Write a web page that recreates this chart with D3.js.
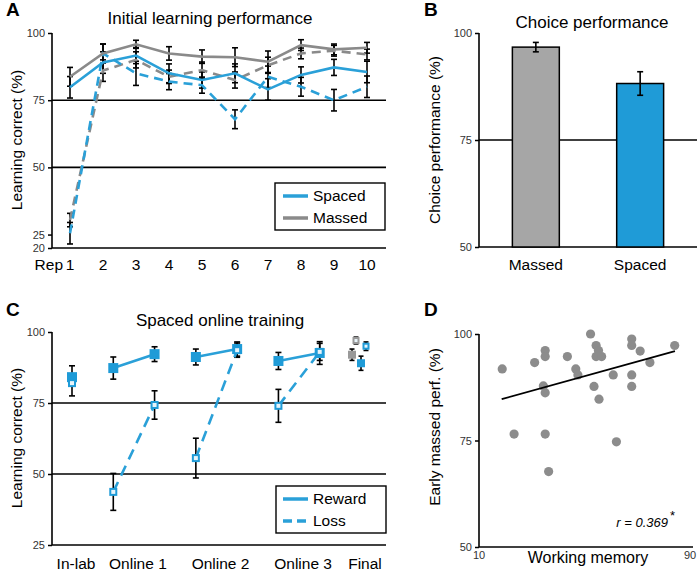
<!DOCTYPE html>
<html>
<head>
<meta charset="utf-8">
<script src="https://cdn.jsdelivr.net/npm/d3@7"></script>
<style>
  body { margin: 0; background: #fff; }
  svg { font-family: "Liberation Sans", Arial, sans-serif; }
</style>
</head>
<body>
<svg width="700" height="574"></svg>
<script>
// ---- data ----
// panel A: initial learning performance, reps 1..10
var reps = [1, 2, 3, 4, 5, 6, 7, 8, 9, 10]
var spacedReward = [79.8, 89, 91.6, 85, 82.5, 85, 79, 84.4, 87.2, 85.5]
var spacedRewardErr = [4, 4, 3, 3.5, 3, 3.5, 4, 3, 3, 4]
var massedReward = [83.7, 92.4, 95.8, 92.4, 91.2, 91, 89.3, 95.5, 93.9, 94.5]
var massedRewardErr = [3.5, 3.5, 1.5, 2.5, 2.5, 3.5, 4, 2, 2, 2]
var spacedLoss = [25.5, 92.4, 85, 81.9, 80.6, 67.9, 83.7, 80, 75, 80]
var spacedLossErr = [4, 3.5, 4.5, 3, 3, 3.5, 4, 3.5, 4, 4]
var massedLoss = [30.4, 86, 90, 83.7, 86.2, 82.5, 88, 92.4, 93.4, 92]
var massedLossErr = [2.5, 4, 3, 2.5, 3, 3, 3, 2, 2, 2]

// panel B: choice performance
var choiceGroups = ['Massed', 'Spaced']
var choiceValues = [96.7, 88.2]
var choiceErr = [1.1, 2.75]

// panel C: spaced online training (session slots 0..6)
var sessionLabels = ['In-lab', 'Online 1', 'Online 2', 'Online 3', 'Final']
var sessionLabelPos = [0, 1.5, 3.5, 5.5, 7]
var rewardPairs = [[1, 2], [3, 4], [5, 6]]
var onlineReward = [87.3, 92.2, 91.2, 94, 89.8, 92.6]
var onlineRewardErr = [3.9, 2.6, 2.8, 2.5, 3, 4]
var onlineLoss = [43.7, 74.3, 55.6, 93.6, 74, 93]
var onlineLossErr = [6.5, 5, 7, 2.5, 5.8, 3]
var inlabReward = 84.1, inlabRewardErr = 4
var inlabLoss = 82, inlabLossErr = 4.5
// final: massed reward, massed loss, spaced reward, spaced loss
var finalValues = [92, 97, 89, 95]
var finalErr = [2, 1.2, 2.5, 1.5]

// panel D: working memory vs early massed performance
var wmX = [18.8, 23.3, 31.1, 35.1, 35.1, 34.4, 35.1, 35.1, 36.4, 43.5, 46.7, 47.5, 52.3, 54.4,
  55.3, 54.4, 56.5, 53.6, 55.5, 60.9, 62.1, 67.9, 67.9, 71.1, 67.9, 67.9, 74.8, 84.2]
var perfY = [91.8, 76.5, 93.3, 96.1, 94.7, 87.8, 86.2, 76.5, 67.7, 94.7, 91.8, 90.4, 100, 97.3,
  96.1, 94.7, 94.7, 87.7, 84.7, 90.4, 74.7, 98.8, 97.3, 96.0, 90.4, 87.7, 93.3, 97.3]
var fitX = [18.6, 84.3]
var fitY = [84.7, 96.0]

// ---- styles ----
var blue = '#2aa0d8'
var barBlue = '#1f9bd7'
var gray = '#8a8a8a'
var tickColor = '#333'

var svg = d3.select('svg')
svg.append('rect').attr('width', 700).attr('height', 574).attr('fill', '#fff')

function panelLetter(t, x, y) {
  svg.append('text').attr('x', x).attr('y', y).text(t)
    .attr('font-size', 19).attr('font-weight', 'bold')
}
function title(t, x, y) {
  svg.append('text').attr('x', x).attr('y', y).text(t)
    .attr('font-size', 17).attr('text-anchor', 'middle')
}
function yTitle(t, x, y) {
  svg.append('text').attr('transform', 'translate(' + x + ',' + y + ') rotate(-90)')
    .text(t).attr('font-size', 15.5).attr('text-anchor', 'middle')
}
function yTicks(g, scale, vals, x0) {
  var ax = d3.axisLeft(scale).tickValues(vals).tickSize(4).tickPadding(3)
  var a = g.append('g').attr('transform', 'translate(' + x0 + ',0)').call(ax)
  a.select('.domain').remove()
  a.selectAll('text').attr('font-size', 11).attr('fill', tickColor)
    .attr('font-family', '"Liberation Sans", Arial, sans-serif')
  a.selectAll('line').attr('stroke', '#000').attr('stroke-width', 1.5)
}
function hline(g, x1, x2, y) {
  g.append('line').attr('x1', x1).attr('x2', x2).attr('y1', y).attr('y2', y)
    .attr('stroke', '#000').attr('stroke-width', 1.6)
}
function vline(g, x, y1, y2) {
  g.append('line').attr('x1', x).attr('x2', x).attr('y1', y1).attr('y2', y2)
    .attr('stroke', '#000').attr('stroke-width', 1.6)
}
function errBar(g, x, yTop, yBot, cap) {
  cap = cap || 3
  g.append('line').attr('x1', x).attr('x2', x).attr('y1', yTop).attr('y2', yBot)
    .attr('stroke', '#000').attr('stroke-width', 1.6)
  g.append('line').attr('x1', x - cap).attr('x2', x + cap).attr('y1', yTop).attr('y2', yTop)
    .attr('stroke', '#000').attr('stroke-width', 1.6)
  g.append('line').attr('x1', x - cap).attr('x2', x + cap).attr('y1', yBot).attr('y2', yBot)
    .attr('stroke', '#000').attr('stroke-width', 1.6)
}

// ================= Panel A =================
var gA = svg.append('g')
var xA = d3.scaleLinear().domain([1, 10]).range([70, 367])
var yA = d3.scaleLinear().domain([20, 100]).range([248, 33])
panelLetter('A', 6, 16)
title('Initial learning performance', 210, 24)
yTitle('Learning correct (%)', 22, 140)
yTicks(gA, yA, [100, 75, 50, 25, 20], 52)
hline(gA, 52, 386, yA(75))
hline(gA, 52, 386, yA(50))
hline(gA, 52, 386, yA(20))
vline(gA, 52, 33, 248)

var seriesA = [
  { v: massedLoss, e: massedLossErr, c: gray, dash: '9,6' },
  { v: spacedLoss, e: spacedLossErr, c: blue, dash: '9,6' },
  { v: massedReward, e: massedRewardErr, c: gray, dash: null },
  { v: spacedReward, e: spacedRewardErr, c: blue, dash: null }
]
seriesA.forEach(function (s) {
  reps.forEach(function (r, i) {
    errBar(gA, xA(r), yA(s.v[i] + s.e[i]), yA(s.v[i] - s.e[i]), 3)
  })
})
var lineA = d3.line().x(function (d) { return xA(d[0]) }).y(function (d) { return yA(d[1]) })
seriesA.forEach(function (s) {
  gA.append('path').datum(reps.map(function (r, i) { return [r, s.v[i]] }))
    .attr('d', lineA).attr('fill', 'none').attr('stroke', s.c)
    .attr('stroke-width', 2.6).attr('stroke-dasharray', s.dash)
})
// x labels
reps.forEach(function (r) {
  gA.append('text').attr('x', xA(r)).attr('y', 270).text(r)
    .attr('font-size', 15.5).attr('text-anchor', 'middle')
})
gA.append('text').attr('x', xA(1) - 7).attr('y', 270).text('Rep')
  .attr('font-size', 15.5).attr('text-anchor', 'end')

// legend A
gA.append('rect').attr('x', 275).attr('y', 183).attr('width', 110).attr('height', 47)
  .attr('fill', '#fff').attr('stroke', '#000').attr('stroke-width', 1.4)
;[['Spaced', blue], ['Massed', gray]].forEach(function (d, i) {
  var yy = 196 + i * 22
  gA.append('line').attr('x1', 283).attr('x2', 308).attr('y1', yy).attr('y2', yy)
    .attr('stroke', d[1]).attr('stroke-width', 3.5)
  gA.append('text').attr('x', 313).attr('y', yy + 5).text(d[0]).attr('font-size', 15.5)
})

// ================= Panel B =================
var gB = svg.append('g')
var xB = d3.scaleBand().domain(choiceGroups).range([479, 697]).paddingInner(0.55).paddingOuter(0.32)
var yB = d3.scaleLinear().domain([50, 100]).range([247, 33])
panelLetter('B', 424, 16)
title('Choice performance', 592, 28)
yTitle('Choice performance (%)', 440, 140)
yTicks(gB, yB, [100, 75, 50], 479)
hline(gB, 479, 697, yB(75))
hline(gB, 479, 697, yB(50))
vline(gB, 479, 33, 247)
gB.selectAll('rect.bar').data(choiceGroups).enter().append('rect')
  .attr('class', 'bar')
  .attr('x', function (d) { return xB(d) })
  .attr('width', xB.bandwidth())
  .attr('y', function (d, i) { return yB(choiceValues[i]) })
  .attr('height', function (d, i) { return yB(50) - yB(choiceValues[i]) })
  .attr('fill', function (d, i) { return i === 0 ? '#a6a6a6' : barBlue })
  .attr('stroke', '#000').attr('stroke-width', 1.5)
choiceGroups.forEach(function (d, i) {
  var cx = xB(d) + xB.bandwidth() / 2
  errBar(gB, cx, yB(choiceValues[i] + choiceErr[i]), yB(choiceValues[i] - choiceErr[i]), 3)
  gB.append('text').attr('x', cx).attr('y', 270).text(d)
    .attr('font-size', 15.5).attr('text-anchor', 'middle')
})

// ================= Panel C =================
var gC = svg.append('g')
var xC = d3.scaleLinear().domain([0, 7]).range([72, 361])
var yC = d3.scaleLinear().domain([25, 100]).range([545, 332])
panelLetter('C', 6, 316)
title('Spaced online training', 220, 326)
yTitle('Learning correct (%)', 22, 438)
yTicks(gC, yC, [100, 75, 50, 25], 52)
hline(gC, 52, 386, yC(75))
hline(gC, 52, 386, yC(50))
hline(gC, 52, 386, yC(25))
vline(gC, 52, 332, 545)

function filledSq(g, x, y, s, c) {
  g.append('rect').attr('x', x - s / 2).attr('y', y - s / 2).attr('width', s).attr('height', s)
    .attr('fill', c)
}
function openSq(g, x, y, s, c) {
  g.append('rect').attr('x', x - s / 2 + 1).attr('y', y - s / 2 + 1).attr('width', s - 2).attr('height', s - 2)
    .attr('fill', '#e8f4fa').attr('stroke', c).attr('stroke-width', 2)
}

// error bars
errBar(gC, xC(0), yC(inlabReward + inlabRewardErr), yC(inlabLoss - inlabLossErr), 3)
onlineReward.forEach(function (v, i) {
  errBar(gC, xC(i + 1), yC(v + onlineRewardErr[i]), yC(v - onlineRewardErr[i]), 3)
})
onlineLoss.forEach(function (v, i) {
  errBar(gC, xC(i + 1), yC(v + onlineLossErr[i]), yC(v - onlineLossErr[i]), 3)
})
// lines
rewardPairs.forEach(function (p) {
  gC.append('line').attr('x1', xC(p[0])).attr('x2', xC(p[1]))
    .attr('y1', yC(onlineReward[p[0] - 1])).attr('y2', yC(onlineReward[p[1] - 1]))
    .attr('stroke', blue).attr('stroke-width', 2.6)
  gC.append('line').attr('x1', xC(p[0])).attr('x2', xC(p[1]))
    .attr('y1', yC(onlineLoss[p[0] - 1])).attr('y2', yC(onlineLoss[p[1] - 1]))
    .attr('stroke', blue).attr('stroke-width', 2.6).attr('stroke-dasharray', '11,7')
})
// markers
filledSq(gC, xC(0), yC(inlabReward), 10, barBlue)
openSq(gC, xC(0), yC(inlabLoss), 8, barBlue)
onlineReward.forEach(function (v, i) { filledSq(gC, xC(i + 1), yC(v), 10, barBlue) })
onlineLoss.forEach(function (v, i) { openSq(gC, xC(i + 1), yC(v), 8, barBlue) })
// final
var finalOffsets = [-9, -5, 0, 5]
finalValues.forEach(function (v, i) {
  var x = xC(7) + finalOffsets[i]
  errBar(gC, x, yC(v + finalErr[i]), yC(v - finalErr[i]), 2.5)
})
finalValues.forEach(function (v, i) {
  var x = xC(7) + finalOffsets[i]
  var c = i < 2 ? '#999' : barBlue
  if (i % 2 === 0) filledSq(gC, x, yC(v), 8, c)
  else openSq(gC, x, yC(v), 7, c)
})
sessionLabels.forEach(function (t, i) {
  gC.append('text').attr('x', xC(sessionLabelPos[i]) + 4).attr('y', 569).text(t)
    .attr('font-size', 15.5).attr('text-anchor', 'middle')
})
// legend C
gC.append('rect').attr('x', 276).attr('y', 486).attr('width', 110).attr('height', 47)
  .attr('fill', '#fff').attr('stroke', '#000').attr('stroke-width', 1.4)
;[['Reward', null], ['Loss', '9,5']].forEach(function (d, i) {
  var yy = 499 + i * 22
  gC.append('line').attr('x1', 283).attr('x2', 308).attr('y1', yy).attr('y2', yy)
    .attr('stroke', blue).attr('stroke-width', 3.5).attr('stroke-dasharray', d[1])
  gC.append('text').attr('x', 313).attr('y', yy + 5).text(d[0]).attr('font-size', 15.5)
})

// ================= Panel D =================
var gD = svg.append('g')
var xD = d3.scaleLinear().domain([10, 90]).range([479, 690])
var yD = d3.scaleLinear().domain([50, 100]).range([547, 334])
panelLetter('D', 424, 316)
yTitle('Early massed perf. (%)', 440, 427)
yTicks(gD, yD, [100, 75, 50], 479)
hline(gD, 479, 693, yD(50))
vline(gD, 479, 334, 547)
;[10, 90].forEach(function (v) {
  gD.append('text').attr('x', xD(v)).attr('y', 559).text(v)
    .attr('font-size', 11).attr('text-anchor', 'middle').attr('fill', tickColor)
})
gD.append('text').attr('x', 588).attr('y', 563).text('Working memory')
  .attr('font-size', 16).attr('text-anchor', 'middle')
gD.selectAll('circle').data(wmX).enter().append('circle')
  .attr('cx', function (d) { return xD(d) })
  .attr('cy', function (d, i) { return yD(perfY[i]) })
  .attr('r', 4.6).attr('fill', '#8c8c8c')
gD.append('line').attr('x1', xD(fitX[0])).attr('x2', xD(fitX[1]))
  .attr('y1', yD(fitY[0])).attr('y2', yD(fitY[1]))
  .attr('stroke', '#000').attr('stroke-width', 1.8)
var rt = gD.append('text').attr('x', 668).attr('y', 527).attr('text-anchor', 'end')
  .attr('font-size', 13).attr('font-style', 'italic')
rt.text('r = 0.369')
gD.append('text').attr('x', 670).attr('y', 520).text('*').attr('font-size', 13)
</script>
</body>
</html>
